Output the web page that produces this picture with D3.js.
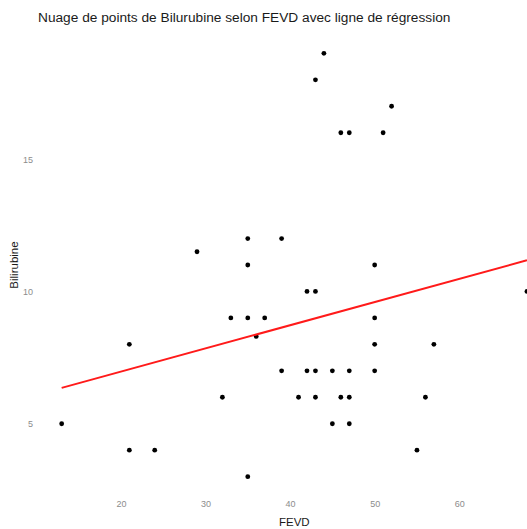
<!DOCTYPE html>
<html>
<head>
<meta charset="utf-8">
<script src="https://cdn.jsdelivr.net/npm/d3@7"></script>
<style>
  html, body { margin: 0; padding: 0; background: #fff; }
  svg { display: block; font-family: "Liberation Sans", Arial, sans-serif; }
</style>
</head>
<body>
<svg id="chart" width="527" height="529"></svg>
<script>
// FEVD / Bilirubine observations
const fevd = [13, 21, 21, 24, 29, 32, 33, 35, 35, 35, 35, 36, 37, 39, 39, 41, 42, 42, 43, 43, 43, 43,
              44, 45, 45, 46, 46, 47, 47, 47, 47, 50, 50, 50, 50, 51, 52, 55, 56, 57, 68];
const bilirubine = [5, 8, 4, 4, 11.5, 6, 9, 12, 11, 9, 3, 8.3, 9, 12, 7, 6, 10, 7, 10, 18, 7, 6,
                    19, 7, 5, 16, 6, 16, 7, 6, 5, 11, 9, 8, 7, 16, 17, 4, 6, 8, 10];

// Linear fit coefficients (Bilirubine ~ FEVD)
const regIntercept = 5.215;
const regSlope = 0.0877;

const xTicks = [20, 30, 40, 50, 60];
const yTicks = [5, 10, 15];

const titleText = "Nuage de points de Bilurubine selon FEVD avec ligne de régression";
const xTitle = "FEVD";
const yTitle = "Bilirubine";

const svg = d3.select("#chart");

// Panel extends past the right edge; domains padded 5% like ggplot
const xMin = d3.min(fevd), xMax = d3.max(fevd);
const yMin = d3.min(bilirubine), yMax = d3.max(bilirubine);
const xPad = (xMax - xMin) * 0.05, yPad = (yMax - yMin) * 0.05;

const x = d3.scaleLinear().domain([xMin - xPad, xMax + xPad]).range([38.4, 550.2]);
const y = d3.scaleLinear().domain([yMin - yPad, yMax + yPad]).range([497.8, 32.2]);

// Title
svg.append("text")
  .attr("x", 38).attr("y", 22)
  .attr("font-size", 13.7).attr("fill", "#1a1a1a")
  .text(titleText);

// X axis tick labels
const xAxis = d3.axisBottom(x).tickValues(xTicks).tickSize(0).tickPadding(0);
const gx = svg.append("g").attr("transform", "translate(0,501)").call(xAxis);
gx.select(".domain").remove();
gx.selectAll("text").attr("font-size", 9).attr("fill", "#8c8c8c")
  .attr("font-family", "Liberation Sans, Arial, sans-serif");

// Y axis tick labels
const yAxis = d3.axisLeft(y).tickValues(yTicks).tickSize(0).tickPadding(0);
const gy = svg.append("g").attr("transform", "translate(33,0)").call(yAxis);
gy.select(".domain").remove();
gy.selectAll("text").attr("font-size", 9).attr("fill", "#8c8c8c")
  .attr("font-family", "Liberation Sans, Arial, sans-serif");

// Axis titles
svg.append("text")
  .attr("x", (x.range()[0] + x.range()[1]) / 2).attr("y", 526)
  .attr("text-anchor", "middle").attr("font-size", 11.5).attr("fill", "#1a1a1a")
  .text(xTitle);

svg.append("text")
  .attr("transform", `translate(18,${(y.range()[0] + y.range()[1]) / 2}) rotate(-90)`)
  .attr("text-anchor", "middle").attr("font-size", 11.5).attr("fill", "#1a1a1a")
  .text(yTitle);

// Points
svg.append("g").selectAll("circle")
  .data(d3.range(fevd.length))
  .join("circle")
  .attr("cx", i => x(fevd[i]))
  .attr("cy", i => y(bilirubine[i]))
  .attr("r", 2.4)
  .attr("fill", "#000");

// Regression line over the observed FEVD range
const lineData = [xMin, xMax].map(v => [v, regIntercept + regSlope * v]);
svg.append("path")
  .datum(lineData)
  .attr("d", d3.line().x(d => x(d[0])).y(d => y(d[1])))
  .attr("stroke", "#ff1a1a").attr("stroke-width", 2).attr("fill", "none");
</script>
</body>
</html>
